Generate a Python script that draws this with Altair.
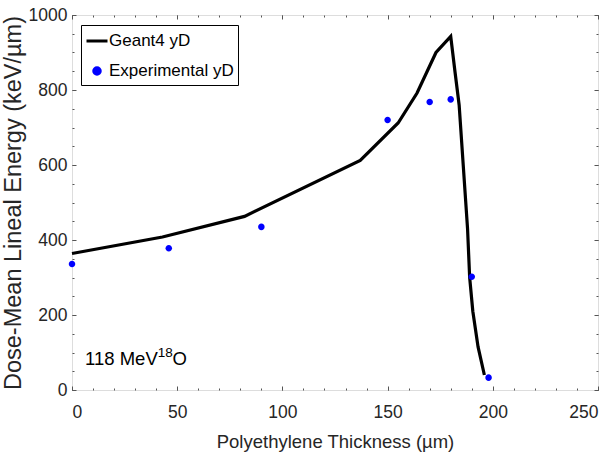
import altair as alt
import pandas as pd

# Geant4 simulated dose-mean lineal energy
sim_x = [0, 43, 82, 137, 155, 164, 173, 180, 182, 184, 188, 189, 190.5, 193, 196]
sim_y = [364, 408, 463, 612, 712, 792, 900, 943, 850, 760, 430, 300, 210, 115, 40]

# Experimental points
exp_x = [0, 46, 90, 150, 170, 180, 190, 198]
exp_y = [336, 378, 435, 720, 768, 775, 302, 33]

x_major = [0, 50, 100, 150, 200, 250]
x_minor = list(range(0, 251, 10))
y_major = [0, 200, 400, 600, 800, 1000]
y_minor = list(range(0, 1001, 50))

FONT = "Liberation Sans"
TXT = "#262626"
TICK = "#555555"

sim = pd.DataFrame({"x": sim_x, "y": sim_y, "series": "Geant4 yD"})
exp = pd.DataFrame({"x": exp_x, "y": exp_y, "series": "Experimental yD"})

xs = alt.Scale(domain=[0, 250], nice=False)
ys = alt.Scale(domain=[0, 1000], nice=False)

DOT = "M0,-0.31A0.31,0.31 0 1 1 0,0.31A0.31,0.31 0 1 1 0,-0.31"
series_dom = ["Geant4 yD", "Experimental yD"]
color = alt.Color("series:N", scale=alt.Scale(domain=series_dom, range=["black", "blue"]),
                  legend=alt.Legend(title=None, orient="none", legendX=9, legendY=10,
                                    labelFont=FONT, labelFontSize=17, labelColor="black",
                                    strokeColor="black", padding=4, rowPadding=10,
                                    symbolSize=441, symbolStrokeWidth=3,
                                    fillColor="white", labelOffset=0))
shape = alt.Shape("series:N", scale=alt.Scale(domain=series_dom, range=["stroke", DOT]),
                  legend=None)


def ax(orient, values, size, labels=False, title=None, **kw):
    args = dict(orient=orient, values=values, tickSize=size, offset=-size, domain=False,
                grid=False, labels=labels, tickColor=TICK, tickWidth=1, title=title)
    args.update(kw)
    return alt.Axis(**args)

line = alt.Chart(sim).mark_line(strokeWidth=3.2, color="black").encode(
    x=alt.X("x:Q", scale=xs, axis=ax("bottom", x_major, 4, labels=True,
            title="Polyethylene Thickness (µm)", format="d", labelFont=FONT,
            labelFontSize=17.5, labelColor=TXT, labelPadding=13, titleFont=FONT,
            titleFontSize=18.5, titleFontWeight="normal", titleColor=TXT, titlePadding=12)),
    y=alt.Y("y:Q", scale=ys, axis=ax("left", y_major, 4, labels=True,
            title="Dose-Mean Lineal Energy (keV/µm)", format="d", labelFont=FONT,
            labelFontSize=17.5, labelColor=TXT, labelPadding=5, titleFont=FONT,
            titleFontSize=23.5, titleFontWeight="normal", titleColor=TXT, titlePadding=3)),
    color=color,
)

pts = alt.Chart(exp).mark_point(filled=True, size=441, opacity=1).encode(
    x=alt.X("x:Q", scale=xs, axis=ax("top", x_major, 4)),
    y=alt.Y("y:Q", scale=ys, axis=ax("right", y_major, 4)),
    color=color,
    shape=shape,
)

minor1 = alt.Chart(exp).mark_point(opacity=0).encode(
    x=alt.X("x:Q", scale=xs, axis=ax("bottom", x_minor, 2)),
    y=alt.Y("y:Q", scale=ys, axis=ax("left", y_minor, 2)),
)
minor2 = alt.Chart(exp).mark_point(opacity=0).encode(
    x=alt.X("x:Q", scale=xs, axis=ax("top", x_minor, 2)),
    y=alt.Y("y:Q", scale=ys, axis=ax("right", y_minor, 2)),
)

ann = pd.DataFrame({"x": [6.2, 40.8, 47.8], "y": [66.6, 88, 66.6], "t": ["118 MeV", "18", "O"],
                    "s": [18.5, 13.5, 18.5]})
text = alt.Chart(ann).mark_text(align="left", baseline="alphabetic", font=FONT, color="black").encode(
    x=alt.X("x:Q", scale=xs, axis=None),
    y=alt.Y("y:Q", scale=ys, axis=None),
    text="t:N",
    size=alt.Size("s:Q", scale=None, legend=None),
)

chart = alt.layer(line, pts, minor1, minor2, text).resolve_axis(
    x="independent", y="independent"
).properties(
    width=526, height=375, padding={"left": 72, "top": 15, "right": 14, "bottom": 69},
    autosize=alt.AutoSizeParams(type="none"),
).configure_view(stroke="#888888", strokeWidth=1.2).configure(background="white")

chart.save("out.html", embed_options={"renderer": "svg", "actions": False})
